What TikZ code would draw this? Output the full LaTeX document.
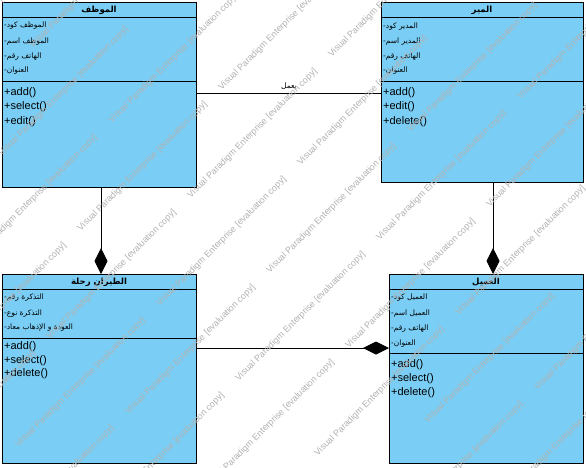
\documentclass[tikz,border=0pt]{standalone}
\usepackage{fontspec}
\setmainfont{Liberation Sans}
\newfontfamily\arabicfont[Script=Arabic]{DejaVu Sans}
\TeXXeTstate=1
\newcommand\rw[1]{\beginR#1\endR}
\usetikzlibrary{arrows.meta}
\definecolor{classfill}{RGB}{122,206,245}
\definecolor{wmgray}{RGB}{178,178,178}
\tikzset{
  classbox/.style={draw=black, line width=0.9pt, fill=classfill, rectangle, anchor=north west, inner sep=0pt},
  sepline/.style={draw=black, line width=0.9pt},
  cname/.style={anchor=center, inner sep=0pt, font=\arabicfont\fontsize{8.5}{10}\selectfont\bfseries},
  attr/.style={anchor=west, inner sep=0pt, font=\arabicfont\fontsize{7.5}{9}\selectfont},
  meth/.style={anchor=west, inner sep=0pt, font=\fontsize{11}{13}\selectfont},
  conn/.style={draw=black, line width=0.8pt},
  comp/.style={conn, -{Diamond[length=26pt,width=13pt,fill=black]}},
  wm/.style={anchor=west, inner sep=0pt, rotate=45, text=wmgray, font=\fontsize{9}{10}\selectfont},
}
\begin{document}
\begin{tikzpicture}[x=1pt,y=-1pt]
\useasboundingbox (0,0) rectangle (586,467);
\fill[white] (0,0) rectangle (586,467);

% ---- class boxes
\node[classbox, minimum width=194pt, minimum height=185pt] (emp) at (2,2) {};
\node[classbox, minimum width=202pt, minimum height=180pt] (mgr) at (381,2) {};
\node[classbox, minimum width=194pt, minimum height=189pt] (flt) at (2,274) {};
\node[classbox, minimum width=194pt, minimum height=189pt] (cus) at (389,274) {};

\draw[sepline] (emp.west |- 0,17) -- (emp.east |- 0,17);
\draw[sepline] (emp.west |- 0,81) -- (emp.east |- 0,81);
\draw[sepline] (mgr.west |- 0,17) -- (mgr.east |- 0,17);
\draw[sepline] (mgr.west |- 0,81) -- (mgr.east |- 0,81);
\draw[sepline] (flt.west |- 0,289) -- (flt.east |- 0,289);
\draw[sepline] (flt.west |- 0,338) -- (flt.east |- 0,338);
\draw[sepline] (cus.west |- 0,289) -- (cus.east |- 0,289);
\draw[sepline] (cus.west |- 0,353) -- (cus.east |- 0,353);

% ---- names
\node[cname] (empn) at (99,10) {\rw{الموظف}};
\node[cname] (mgrn) at (482,10) {\rw{المير}};
\node[cname] (fltn) at (99,282) {\rw{رحلة} \rw{الطيران}};
\node[cname] (cusn) at (486,282) {\rw{العميل}};

% ---- attributes
\node[attr] (ea1) at (4,26) {-\rw{كود} \rw{الموظف}};
\node[attr] (ea2) at (4,42) {-\rw{اسم} \rw{الموظف}};
\node[attr] (ea3) at (4,57) {-\rw{رقم} \rw{الهاتف}};
\node[attr] (ea4) at (4,71) {-\rw{العنوان}};

\node[attr] (ma1) at (383,27) {-\rw{كود} \rw{المدير}};
\node[attr] (ma2) at (383,42) {-\rw{اسم} \rw{المدير}};
\node[attr] (ma3) at (383,57) {-\rw{رقم} \rw{الهاتف}};
\node[attr] (ma4) at (383,71) {-\rw{العنوان}};

\node[attr] (fa1) at (4,298) {-\rw{رقم} \rw{التذكرة}};
\node[attr] (fa2) at (4,314) {-\rw{نوع} \rw{التذكرة}};
\node[attr] (fa3) at (4,328) {-\rw{معاد} \rw{الإذهاب} \rw{و} \rw{العودة}};

\node[attr] (ca1) at (391,298) {-\rw{كود} \rw{العميل}};
\node[attr] (ca2) at (391,314) {-\rw{اسم} \rw{العميل}};
\node[attr] (ca3) at (391,329) {-\rw{رقم} \rw{الهاتف}};
\node[attr] (ca4) at (391,344) {-\rw{العنوان}};

% ---- methods
\node[meth] (em1) at (4,93) {+add()};
\node[meth] (em2) at (4,107) {+select()};
\node[meth] (em3) at (4,122) {+edit()};

\node[meth] (mm1) at (383,93) {+add()};
\node[meth] (mm2) at (383,107) {+edit()};
\node[meth] (mm3) at (383,122) {+delete()};

\node[meth] (fm1) at (4,347) {+add()};
\node[meth] (fm2) at (4,361) {+select()};
\node[meth] (fm3) at (4,374) {+delete()};

\node[meth] (cm1) at (391,365) {+add()};
\node[meth] (cm2) at (391,379) {+select()};
\node[meth] (cm3) at (391,393) {+delete()};

% ---- connectors
\draw[conn] (emp.east |- 0,93) -- node[above=3pt, inner sep=0pt, font=\arabicfont\fontsize{7.5}{9}\selectfont] (lbl) {\rw{يعمل}} (mgr.west |- 0,93);
\draw[comp] (flt.east |- 0,348) -- (cus.west |- 0,348);
\draw[comp] (emp.south -| 101,0) -- (flt.north -| 101,0);
\draw[comp] (mgr.south -| 493,0) -- (cus.north -| 493,0);

% ---- watermark
\begin{scope}
\clip (0,0) rectangle (586,467);
\foreach \k in {-3,...,12}{
  \foreach \j in {0,...,9}{
    \pgfmathsetmacro{\xx}{mod(110*\k+1410,141)-564+141*\j}
    \pgfmathsetmacro{\yy}{155+77*\k-\xx}
    \pgfmathtruncatemacro{\ok}{and(and(\xx+64>-30,\xx+64<616),and(\yy-64>-30,\yy-64<497))}
    \ifnum\ok=1
      \node[wm] (wm-\k-\j) at (\xx,\yy) {Visual Paradigm Enterprise [evaluation copy]};
    \fi
  }
}
\end{scope}
\end{tikzpicture}
\end{document}
